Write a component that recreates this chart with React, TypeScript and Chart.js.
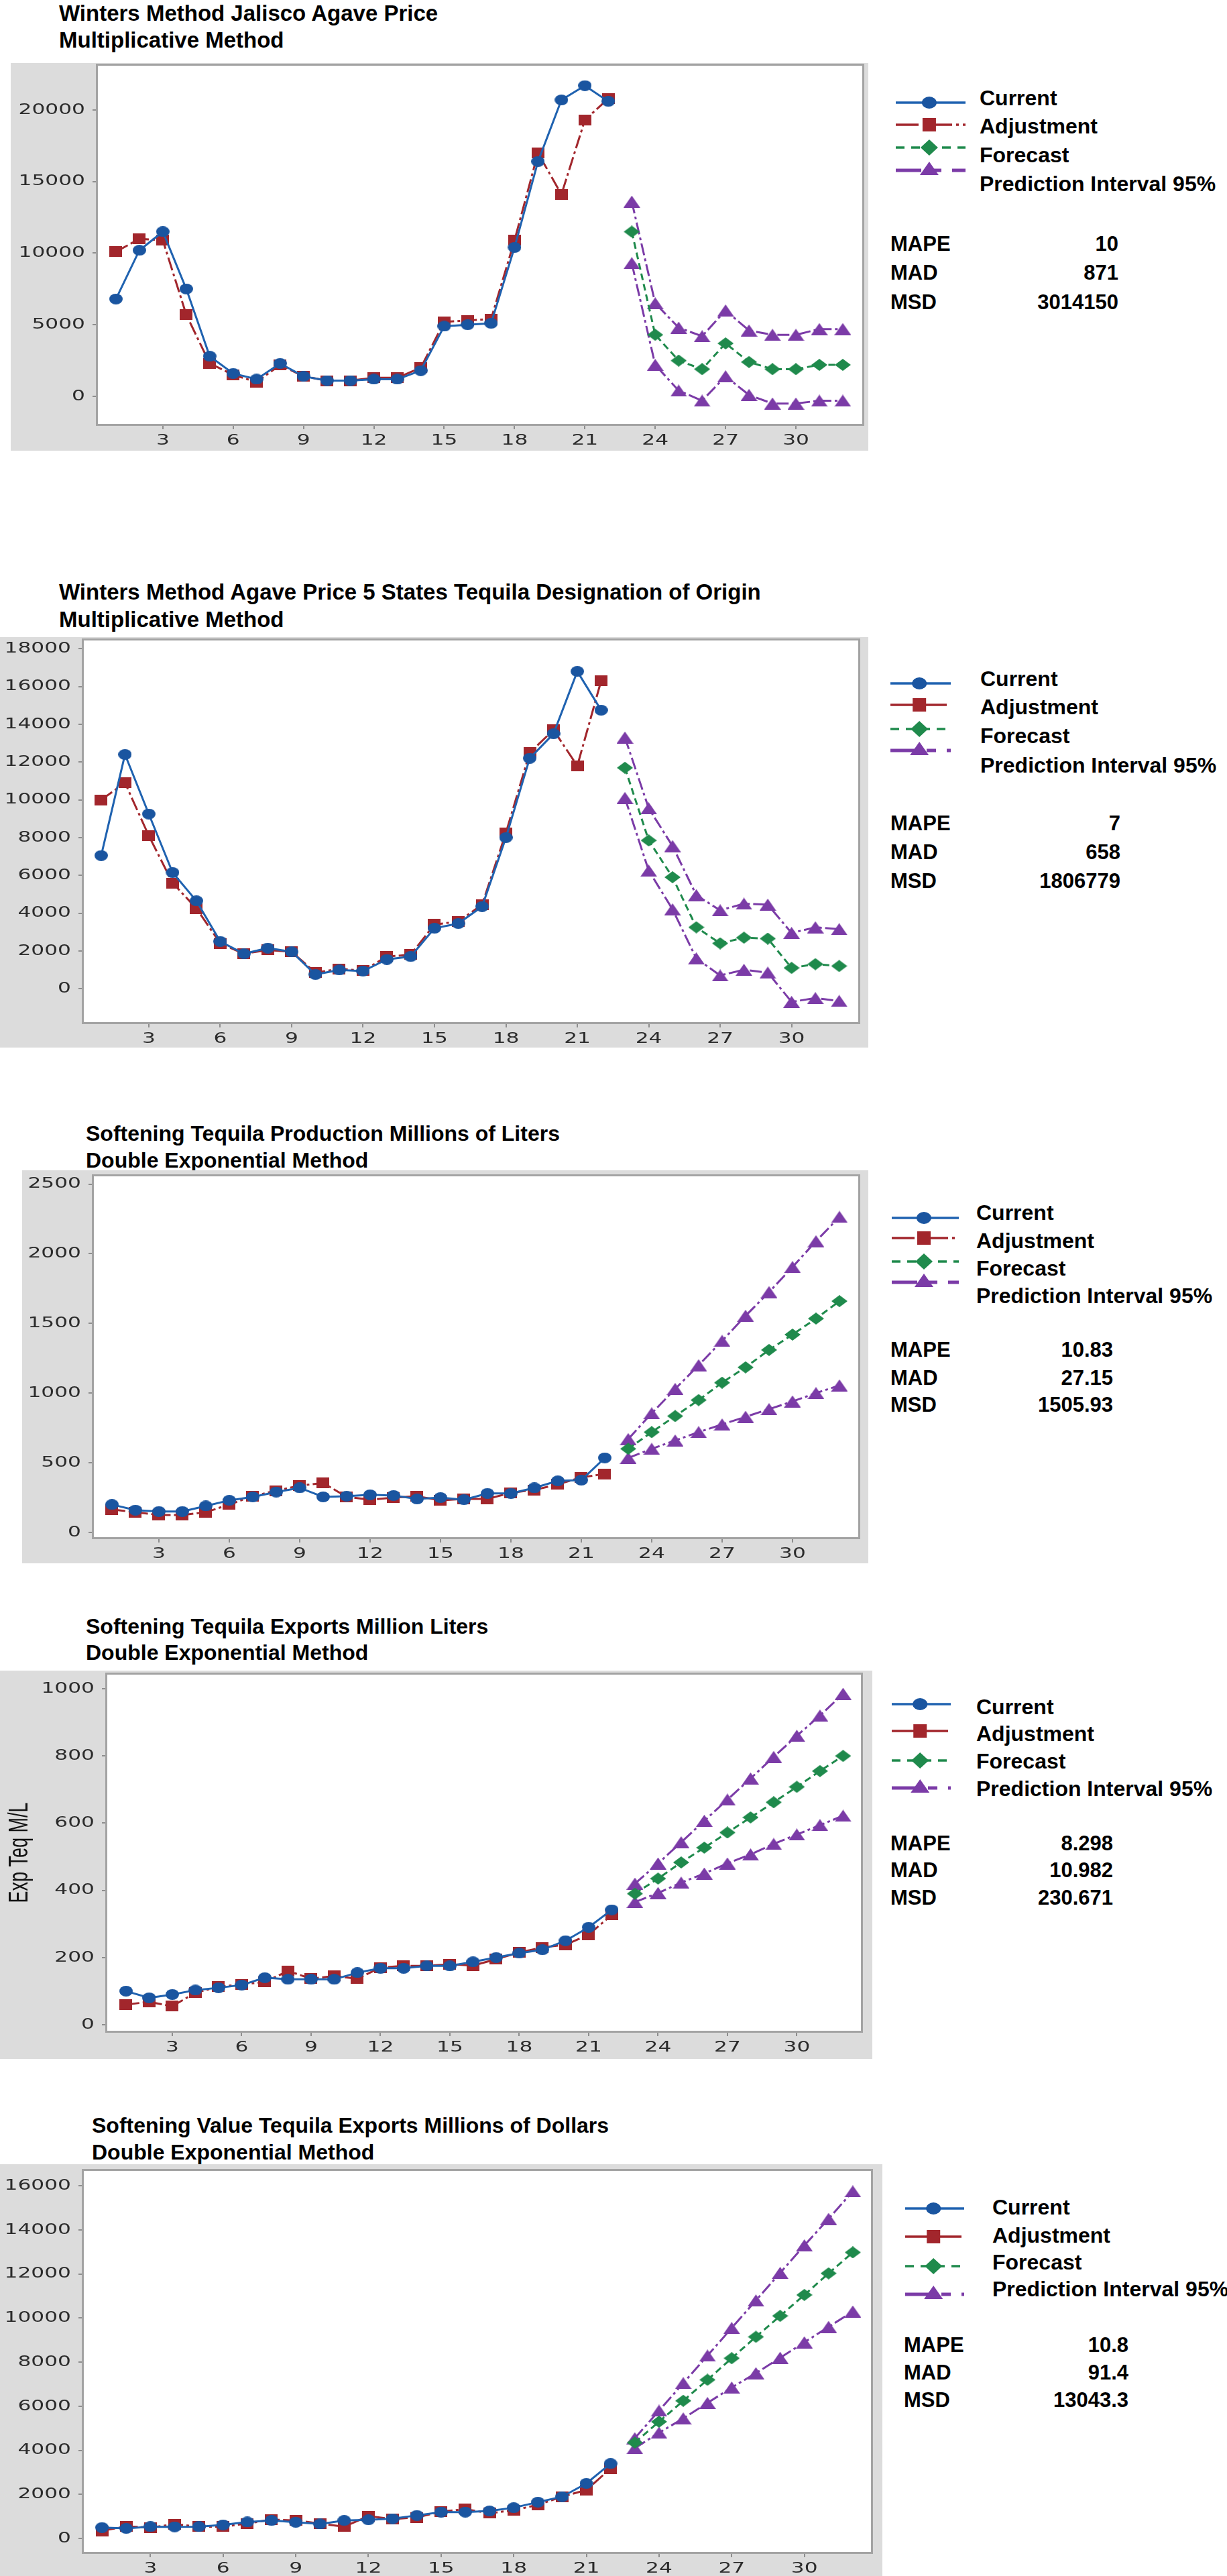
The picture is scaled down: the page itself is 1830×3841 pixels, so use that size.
import React, { useEffect, useRef } from 'react';
import { Chart, registerables } from 'chart.js';

Chart.register(...registerables);

// ---------------- data ----------------
const periods = [1, 2, 3, 4, 5, 6, 7, 8, 9, 10, 11, 12, 13, 14, 15, 16, 17, 18, 19, 20, 21, 22, 23, 24, 25, 26, 27, 28, 29, 30, 31, 32];
const fitPeriods = periods.slice(0, 22);
const forecastPeriods = periods.slice(22);
const xTickValues = [3, 6, 9, 12, 15, 18, 21, 24, 27, 30];

const legendLabels = ['Current', 'Adjustment', 'Forecast', 'Prediction Interval 95%'];
const statLabels = ['MAPE', 'MAD', 'MSD'];

// Chart 1: Winters Method Jalisco Agave Price
const c1Current = [6800, 10200, 11500, 7500, 2800, 1600, 1200, 2300, 1400, 1100, 1100, 1200, 1200, 1800, 4900, 5000, 5100, 10400, 16400, 20700, 21700, 20600];
const c1Adjust = [10100, 11000, 10900, 5700, 2300, 1500, 1000, 2200, 1400, 1100, 1100, 1300, 1300, 2000, 5200, 5300, 5400, 10900, 17000, 14100, 19300, 20800];
const c1Forecast = [11500, 4300, 2500, 1900, 3700, 2400, 1900, 1900, 2200, 2200];
const c1Upper = [13600, 6500, 4800, 4200, 6000, 4600, 4300, 4300, 4700, 4700];
const c1Lower = [9300, 2200, 400, -300, 1400, 100, -500, -500, -300, -300];
const c1YTicks = [0, 5000, 10000, 15000, 20000];
const c1Stats = ['10', '871', '3014150'];

// Chart 2: Winters Method Agave Price 5 States
const c2Current = [7050, 12400, 9250, 6150, 4650, 2500, 1850, 2150, 1950, 750, 990, 930, 1550, 1700, 3200, 3450, 4350, 8000, 12200, 13500, 16800, 14750];
const c2Adjust = [10000, 10900, 8100, 5600, 4250, 2400, 1850, 2050, 1950, 850, 1050, 950, 1700, 1800, 3400, 3550, 4450, 8250, 12500, 13700, 11800, 16300];
const c2Forecast = [11700, 7850, 5900, 3250, 2400, 2700, 2650, 1100, 1300, 1200];
const c2Upper = [13300, 9550, 7550, 4950, 4150, 4500, 4450, 2950, 3250, 3150];
const c2Lower = [10100, 6250, 4200, 1600, 700, 1000, 850, -700, -500, -650];
const c2YTicks = [0, 2000, 4000, 6000, 8000, 10000, 12000, 14000, 16000, 18000];
const c2Stats = ['7', '658', '1806779'];

// Chart 3: Tequila Production Millions of Liters
const c3Current = [200, 160, 150, 150, 190, 230, 255, 290, 320, 255, 260, 270, 265, 240, 250, 235, 280, 280, 320, 370, 375, 535];
const c3Adjust = [165, 145, 125, 125, 145, 200, 260, 300, 335, 355, 255, 235, 250, 260, 230, 240, 240, 285, 305, 345, 395, 420];
const c3Forecast = [600, 720, 835, 950, 1075, 1185, 1310, 1420, 1535, 1660];
const c3Upper = [670, 855, 1030, 1200, 1375, 1555, 1725, 1905, 2090, 2265];
const c3Lower = [535, 600, 660, 720, 775, 830, 885, 940, 1000, 1055];
const c3YTicks = [0, 500, 1000, 1500, 2000, 2500];
const c3Stats = ['10.83', '27.15', '1505.93'];

// Chart 4: Tequila Exports Million Liters
const c4Current = [100, 80, 90, 103, 110, 118, 140, 135, 135, 135, 155, 168, 168, 175, 175, 187, 200, 213, 223, 250, 290, 342];
const c4Adjust = [60, 68, 55, 95, 113, 120, 127, 160, 137, 145, 137, 170, 175, 175, 180, 176, 195, 215, 230, 238, 268, 327];
const c4Forecast = [390, 435, 483, 527, 572, 617, 662, 708, 755, 800];
const c4Upper = [420, 480, 543, 607, 670, 733, 797, 860, 920, 985];
const c4Lower = [365, 392, 423, 450, 480, 507, 538, 566, 594, 622];
const c4YTicks = [0, 200, 400, 600, 800, 1000];
const c4Stats = ['8.298', '10.982', '230.671'];

// Chart 5: Value Tequila Exports Millions of Dollars
const c5Current = [500, 460, 540, 530, 540, 620, 750, 820, 740, 660, 820, 850, 900, 1050, 1200, 1200, 1250, 1400, 1650, 1900, 2500, 3400];
const c5Adjust = [350, 550, 500, 650, 540, 540, 680, 860, 820, 680, 540, 1020, 880, 960, 1220, 1330, 1150, 1280, 1530, 1900, 2200, 3180];
const c5Forecast = [4350, 5300, 6250, 7200, 8180, 9150, 10100, 11050, 12030, 12980];
const c5Upper = [4550, 5800, 7050, 8300, 9550, 10800, 12050, 13300, 14500, 15750];
const c5Lower = [4100, 4800, 5450, 6150, 6850, 7500, 8200, 8900, 9600, 10300];
const c5YTicks = [0, 2000, 4000, 6000, 8000, 10000, 12000, 14000, 16000];
const c5Stats = ['10.8', '91.4', '13043.3'];

// ---------------- styles ----------------
const COLORS = {
  current: '#1f62b0',
  currentMark: '#1a55a0',
  adjust: '#a2262c',
  forecast: '#1f8a4c',
  interval: '#7b3ba7',
};
const DASH = {
  adjust: [20, 5, 4, 5],
  forecast: [10, 6],
  interval: [18, 5, 4, 5],
};
const TEXT_FONT = '"Liberation Sans", Arial, Helvetica, sans-serif';
const TICK_FONT = '22px "DejaVu Sans", "Liberation Sans", sans-serif';
const TICK_STRETCH = 1.42;

type Box = { l: number; t: number; r: number; b: number };
type PanelCfg = {
  title: string[];
  titleX: number;
  titleY: number[];
  titleSize: number;
  panel: Box;
  plot: Box;
  xRange: [number, number];
  yRange: [number, number];
  yTicks: number[];
  yTitle?: string;
  yTitleX?: number;
  legend: { ml: number; mr: number; tx: number; ty: number[]; my: number[] };
  stats: { lx: number; vr: number; y: number[]; values: string[] };
  current: number[];
  adjust: number[];
  forecast: number[];
  upper: number[];
  lower: number[];
};

const panels: PanelCfg[] = [
  {
    title: ['Winters Method Jalisco Agave Price', 'Multiplicative Method'],
    titleX: 88, titleY: [19, 59], titleSize: 33,
    panel: { l: 16, t: 94, r: 1295, b: 672 },
    plot: { l: 146, t: 98, r: 1286, b: 632 },
    xRange: [0.23, 32.83], yRange: [-1920, 23090], yTicks: c1YTicks,
    legend: { ml: 1336, mr: 1440, tx: 1461, ty: [146, 188, 231, 274], my: [153, 186, 220, 254] },
    stats: { lx: 1328, vr: 1668, y: [363, 406, 450], values: c1Stats },
    current: c1Current, adjust: c1Adjust, forecast: c1Forecast, upper: c1Upper, lower: c1Lower,
  },
  {
    title: ['Winters Method Agave Price 5 States Tequila Designation of Origin', 'Multiplicative Method'],
    titleX: 88, titleY: [882, 923], titleSize: 33,
    panel: { l: 0, t: 950, r: 1295, b: 1562 },
    plot: { l: 125, t: 955, r: 1280, b: 1524 },
    xRange: [0.27, 32.8], yRange: [-1770, 18440], yTicks: c2YTicks,
    legend: { ml: 1328, mr: 1418, tx: 1462, ty: [1012, 1054, 1097, 1141], my: [1019, 1051, 1087, 1119] },
    stats: { lx: 1328, vr: 1671, y: [1227, 1270, 1313], values: c2Stats },
    current: c2Current, adjust: c2Adjust, forecast: c2Forecast, upper: c2Upper, lower: c2Lower,
  },
  {
    title: ['Softening Tequila Production Millions of Liters', 'Double Exponential Method'],
    titleX: 128, titleY: [1690, 1730], titleSize: 32,
    panel: { l: 33, t: 1745, r: 1295, b: 2331 },
    plot: { l: 140, t: 1754, r: 1280, b: 2292 },
    xRange: [0.23, 32.8], yRange: [-34, 2556], yTicks: c3YTicks,
    legend: { ml: 1330, mr: 1430, tx: 1456, ty: [1808, 1850, 1891, 1932], my: [1816, 1846, 1881, 1912] },
    stats: { lx: 1328, vr: 1660, y: [2012, 2054, 2094], values: c3Stats },
    current: c3Current, adjust: c3Adjust, forecast: c3Forecast, upper: c3Upper, lower: c3Lower,
  },
  {
    title: ['Softening Tequila Exports Million Liters', 'Double Exponential Method'],
    titleX: 128, titleY: [2425, 2464], titleSize: 32,
    panel: { l: 0, t: 2491, r: 1301, b: 3070 },
    plot: { l: 160, t: 2497, r: 1284, b: 3028 },
    xRange: [0.19, 32.77], yRange: [-18, 1042], yTicks: c4YTicks,
    yTitle: 'Exp Teq M/L', yTitleX: 30,
    legend: { ml: 1330, mr: 1418, tx: 1456, ty: [2545, 2585, 2626, 2667], my: [2541, 2581, 2625, 2666] },
    stats: { lx: 1328, vr: 1660, y: [2748, 2788, 2829], values: c4Stats },
    current: c4Current, adjust: c4Adjust, forecast: c4Forecast, upper: c4Upper, lower: c4Lower,
  },
  {
    title: ['Softening Value Tequila Exports Millions of Dollars', 'Double Exponential Method'],
    titleX: 137, titleY: [3169, 3209], titleSize: 32,
    panel: { l: 0, t: 3227, r: 1316, b: 3841 },
    plot: { l: 125, t: 3237, r: 1299, b: 3805 },
    xRange: [0.25, 32.75], yRange: [-604, 16676], yTicks: c5YTicks,
    legend: { ml: 1350, mr: 1438, tx: 1480, ty: [3291, 3333, 3373, 3413], my: [3293, 3335, 3379, 3421] },
    stats: { lx: 1348, vr: 1683, y: [3496, 3537, 3578], values: c5Stats },
    current: c5Current, adjust: c5Adjust, forecast: c5Forecast, upper: c5Upper, lower: c5Lower,
  },
];

// ---------------- helpers ----------------
function toPoints(xs: number[], ys: number[]) {
  return ys.map((y, i) => ({ x: xs[i], y }));
}

function makeMarker(shape: string, color: string, w: number, h: number): HTMLCanvasElement {
  const c = document.createElement('canvas');
  c.width = w;
  c.height = h;
  const ctx = c.getContext('2d')!;
  ctx.fillStyle = color;
  ctx.beginPath();
  if (shape === 'circle') {
    ctx.ellipse(w / 2, h / 2, w / 2, h / 2, 0, 0, Math.PI * 2);
  } else if (shape === 'square') {
    ctx.rect(0, 0, w, h);
  } else if (shape === 'diamond') {
    ctx.moveTo(w / 2, 0);
    ctx.lineTo(w, h / 2);
    ctx.lineTo(w / 2, h);
    ctx.lineTo(0, h / 2);
    ctx.closePath();
  } else {
    ctx.moveTo(w / 2, 0);
    ctx.lineTo(w, h);
    ctx.lineTo(0, h);
    ctx.closePath();
  }
  ctx.fill();
  return c;
}

const framePlugin = {
  id: 'frameAndLabels',
  beforeDraw(chart: any) {
    const { ctx, chartArea: a } = chart;
    ctx.save();
    ctx.fillStyle = '#ffffff';
    ctx.fillRect(a.left, a.top, a.right - a.left, a.bottom - a.top);
    ctx.restore();
  },
  beforeDatasetsDraw(chart: any) {
    const { ctx, chartArea: a } = chart;
    ctx.save();
    ctx.strokeStyle = '#a3a3a3';
    ctx.lineWidth = 3;
    ctx.strokeRect(a.left - 1.5, a.top - 1.5, a.right - a.left + 3, a.bottom - a.top + 3);
    ctx.restore();
  },
  afterDraw(chart: any, _args: any, opts: any) {
    const { ctx, chartArea: a } = chart;
    const xs = chart.scales.x;
    const ys = chart.scales.y;
    ctx.save();
    ctx.fillStyle = '#2b2b2b';
    ctx.font = TICK_FONT;
    ctx.textBaseline = 'middle';
    ctx.textAlign = 'right';
    ys.ticks.forEach((t: any) => {
      const py = ys.getPixelForValue(t.value);
      ctx.save();
      ctx.translate(a.left - 19, py);
      ctx.scale(TICK_STRETCH, 1);
      ctx.fillText(String(t.value), 0, 0);
      ctx.restore();
    });
    ctx.textAlign = 'center';
    xs.ticks.forEach((t: any) => {
      const px = xs.getPixelForValue(t.value);
      ctx.save();
      ctx.translate(px, a.bottom + 25);
      ctx.scale(TICK_STRETCH, 1);
      ctx.fillText(String(t.value), 0, 0);
      ctx.restore();
    });
    if (opts && opts.yTitle) {
      ctx.save();
      ctx.font = '27px "Liberation Sans", Arial, sans-serif';
      ctx.fillStyle = '#111111';
      ctx.translate(opts.yTitleX, (a.top + a.bottom) / 2);
      ctx.rotate(-Math.PI / 2);
      ctx.scale(1, 1.5);
      ctx.textAlign = 'center';
      ctx.textBaseline = 'middle';
      ctx.fillText(opts.yTitle, 0, 0);
      ctx.restore();
    }
    ctx.restore();
  },
};

function LegendMarker({ kind, width }: { kind: number; width: number }) {
  const h = 28;
  const cy = h / 2;
  const cx = width * 0.48;
  const colors = [COLORS.current, COLORS.adjust, COLORS.forecast, COLORS.interval];
  const dashes = ['none', '34 6 4 6', '13 10', '38 16 14 16'];
  const col = colors[kind];
  let shape: React.ReactNode;
  if (kind === 0) shape = <ellipse cx={cx} cy={cy} rx={11} ry={9} fill={COLORS.currentMark} />;
  else if (kind === 1) shape = <rect x={cx - 10} y={cy - 10} width={20} height={20} fill={col} />;
  else if (kind === 2) shape = <polygon points={`${cx},${cy - 12} ${cx + 13},${cy} ${cx},${cy + 12} ${cx - 13},${cy}`} fill={col} />;
  else shape = <polygon points={`${cx},${cy - 13} ${cx + 14},${cy + 7} ${cx - 14},${cy + 7}`} fill={col} />;
  return (
    <svg width={width} height={h} style={{ display: 'block' }}>
      <line x1={0} y1={cy} x2={width} y2={cy} stroke={col} strokeWidth={kind === 3 ? 5 : 3.5} strokeDasharray={dashes[kind]} />
      {shape}
    </svg>
  );
}

function TextAt({ x, y, size, children, right, width }: { x: number; y: number; size: number; children: React.ReactNode; right?: boolean; width?: number }) {
  const style: React.CSSProperties = {
    position: 'absolute',
    top: y - size / 2,
    height: size,
    lineHeight: `${size}px`,
    fontSize: size,
    fontWeight: 'bold',
    fontFamily: TEXT_FONT,
    color: '#000',
    whiteSpace: 'nowrap',
  };
  if (right) {
    style.left = x - (width || 300);
    style.width = width || 300;
    style.textAlign = 'right';
  } else {
    style.left = x;
  }
  return <div style={style}>{children}</div>;
}

function ForecastPanel({ cfg }: { cfg: PanelCfg }) {
  const ref = useRef<HTMLCanvasElement>(null);
  const pw = cfg.panel.r - cfg.panel.l;
  const ph = cfg.panel.b - cfg.panel.t;

  useEffect(() => {
    if (!ref.current) return;
    const mCircle = makeMarker('circle', COLORS.currentMark, 20, 16);
    const mSquare = makeMarker('square', COLORS.adjust, 19, 16);
    const mDiamond = makeMarker('diamond', COLORS.forecast, 24, 18);
    const mTriangle = makeMarker('triangle', COLORS.interval, 25, 18);
    const common = { tension: 0, fill: false, pointHoverRadius: 0 };
    const chart = new Chart(ref.current, {
      type: 'line',
      data: {
        datasets: [
          { ...common, label: legendLabels[0], data: toPoints(fitPeriods, cfg.current), borderColor: COLORS.current, borderWidth: 3, pointStyle: mCircle as any },
          { ...common, label: legendLabels[1], data: toPoints(fitPeriods, cfg.adjust), borderColor: COLORS.adjust, borderWidth: 3, borderDash: DASH.adjust, pointStyle: mSquare as any },
          { ...common, label: legendLabels[2], data: toPoints(forecastPeriods, cfg.forecast), borderColor: COLORS.forecast, borderWidth: 3, borderDash: DASH.forecast, pointStyle: mDiamond as any },
          { ...common, label: 'Upper 95%', data: toPoints(forecastPeriods, cfg.upper), borderColor: COLORS.interval, borderWidth: 3, borderDash: DASH.interval, pointStyle: mTriangle as any },
          { ...common, label: 'Lower 95%', data: toPoints(forecastPeriods, cfg.lower), borderColor: COLORS.interval, borderWidth: 3, borderDash: DASH.interval, pointStyle: mTriangle as any },
        ] as any,
      },
      options: {
        animation: false,
        responsive: false,
        maintainAspectRatio: false,
        events: [],
        layout: {
          autoPadding: false,
          padding: { left: 0, top: cfg.plot.t - cfg.panel.t, right: cfg.panel.r - cfg.plot.r, bottom: 0 },
        },
        plugins: {
          legend: { display: false },
          tooltip: { enabled: false },
          frameAndLabels: { yTitle: cfg.yTitle, yTitleX: (cfg.yTitleX || 0) - cfg.panel.l },
        } as any,
        scales: {
          x: {
            type: 'linear',
            min: cfg.xRange[0],
            max: cfg.xRange[1],
            afterFit: (s: any) => { s.height = cfg.panel.b - cfg.plot.b; },
            afterBuildTicks: (s: any) => { s.ticks = xTickValues.map((v) => ({ value: v })); },
            ticks: { display: false },
            grid: { drawOnChartArea: false, drawTicks: true, tickLength: 8, color: '#8e8e8e', lineWidth: 2 },
            border: { display: false },
          },
          y: {
            type: 'linear',
            min: cfg.yRange[0],
            max: cfg.yRange[1],
            afterFit: (s: any) => { s.width = cfg.plot.l - cfg.panel.l; },
            afterBuildTicks: (s: any) => { s.ticks = cfg.yTicks.map((v) => ({ value: v })); },
            ticks: { display: false },
            grid: { drawOnChartArea: false, drawTicks: true, tickLength: 8, color: '#8e8e8e', lineWidth: 2 },
            border: { display: false },
          },
        } as any,
      },
      plugins: [framePlugin as any],
    });
    return () => chart.destroy();
  }, [cfg]);

  const lg = cfg.legend;
  const st = cfg.stats;
  return (
    <>
      {cfg.title.map((line, i) => (
        <TextAt key={'t' + i} x={cfg.titleX} y={cfg.titleY[i]} size={cfg.titleSize}>{line}</TextAt>
      ))}
      <div style={{ position: 'absolute', left: cfg.panel.l, top: cfg.panel.t, width: pw, height: ph, background: '#dcdcdc' }}>
        <canvas ref={ref} width={pw} height={ph} style={{ display: 'block', width: pw, height: ph }} />
      </div>
      {legendLabels.map((lab, i) => (
        <React.Fragment key={'l' + i}>
          <div style={{ position: 'absolute', left: lg.ml, top: lg.my[i] - 14 }}>
            <LegendMarker kind={i} width={lg.mr - lg.ml} />
          </div>
          <TextAt x={lg.tx} y={lg.ty[i]} size={32}>{lab}</TextAt>
        </React.Fragment>
      ))}
      {statLabels.map((lab, i) => (
        <React.Fragment key={'s' + i}>
          <TextAt x={st.lx} y={st.y[i]} size={31}>{lab}</TextAt>
          <TextAt x={st.vr} y={st.y[i]} size={31} right width={220}>{st.values[i]}</TextAt>
        </React.Fragment>
      ))}
    </>
  );
}

export default function App() {
  return (
    <div style={{ position: 'absolute', left: 0, top: 0, width: 1830, height: 3841, background: '#ffffff', overflow: 'hidden', fontFamily: TEXT_FONT }}>
      {panels.map((p, i) => (
        <ForecastPanel key={i} cfg={p} />
      ))}
    </div>
  );
}
